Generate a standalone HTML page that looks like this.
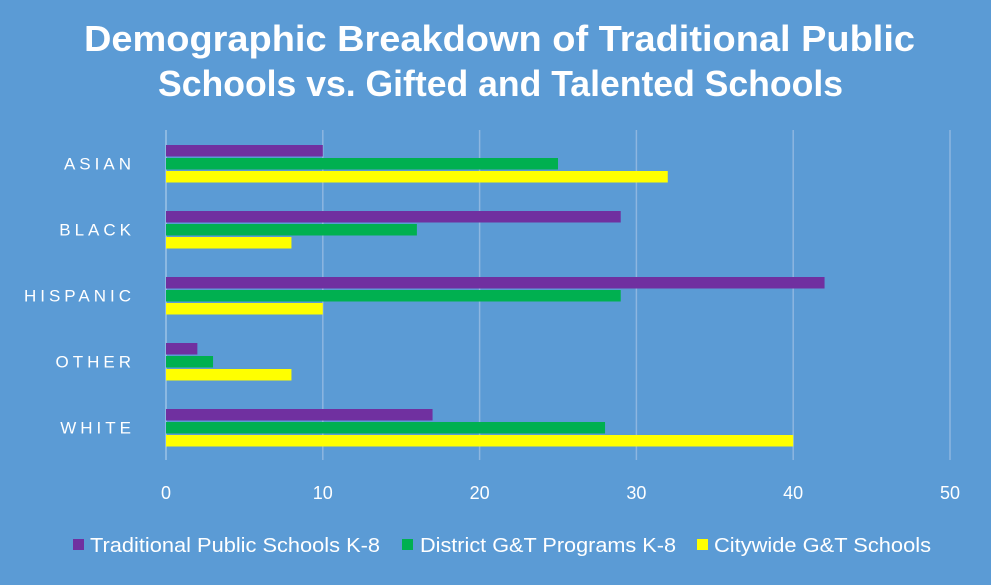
<!DOCTYPE html>
<html><head><meta charset="utf-8"><style>
body{margin:0;background:#5B9BD5;}
svg{display:block;font-family:"Liberation Sans",sans-serif;}
</style></head><body>
<svg id="chart" width="991" height="585">
<rect width="991" height="585" fill="#5B9BD5"/>
<text x="84" y="51" textLength="831" lengthAdjust="spacingAndGlyphs" fill="#fff" font-size="36" font-weight="bold">Demographic Breakdown of Traditional Public</text>
<text x="158" y="96" textLength="685" lengthAdjust="spacingAndGlyphs" fill="#fff" font-size="36" font-weight="bold">Schools vs. Gifted and Talented Schools</text>
<g id="grid"></g><g id="bars"></g><g id="labels"></g>
<g>
<rect x="73" y="539" width="11" height="11" fill="#7030A0"/>
<text x="90" y="552" textLength="290" lengthAdjust="spacingAndGlyphs" fill="#fff" font-size="20">Traditional Public Schools K-8</text>
<rect x="402" y="539" width="11" height="11" fill="#00B050"/>
<text x="420" y="552" textLength="256" lengthAdjust="spacingAndGlyphs" fill="#fff" font-size="20">District G&amp;T Programs K-8</text>
<rect x="697" y="539" width="11" height="11" fill="#FFFF00"/>
<text x="714" y="552" textLength="217" lengthAdjust="spacingAndGlyphs" fill="#fff" font-size="20">Citywide G&amp;T Schools</text>
</g>
</svg>
<script>
const categories=["ASIAN","BLACK","HISPANIC","OTHER","WHITE"];
const traditional=[10,29,42,2,17];
const district=[25,16,29,3,28];
const citywide=[32,8,10,8,40];
const ticks=[0,10,20,30,40,50];
const NS="http://www.w3.org/2000/svg";
const x0=166,x1=950,xmax=50;
function xs(v){return x0+(x1-x0)*v/xmax;}
function yc(i){return 163.5+66*i;}
function mk(tag,attrs,parent){const e=document.createElementNS(NS,tag);for(const k in attrs)e.setAttribute(k,attrs[k]);document.getElementById(parent).appendChild(e);return e;}
ticks.forEach(t=>{
  const l=mk("line",{x1:xs(t),x2:xs(t),y1:130,y2:460,stroke:t===0?"#9DC3E6":"#8DB6E0","stroke-width":1.5},"grid");
  
  
  const tx=mk("text",{x:xs(t),y:499,"text-anchor":"middle",fill:"#fff","font-size":18},"labels");
  tx.textContent=t;
  
  
});
const series=[[traditional,"#7030A0","traditional"],[district,"#00B050","district"],[citywide,"#FFFF00","citywide"]];
categories.forEach((c,i)=>{
  const tx=mk("text",{x:135,y:yc(i)+6,"text-anchor":"end",fill:"#fff","font-size":17,"letter-spacing":"4"},"labels");
  tx.textContent=c;
  
  
  series.forEach((s,j)=>{
    const y=yc(i)-18.5+j*13;
    const r=mk("rect",{x:x0,y:y,width:xs(s[0][i])-x0,height:11.5,fill:s[1]},"bars");
    
    
  });
});
</script>
</body></html>
